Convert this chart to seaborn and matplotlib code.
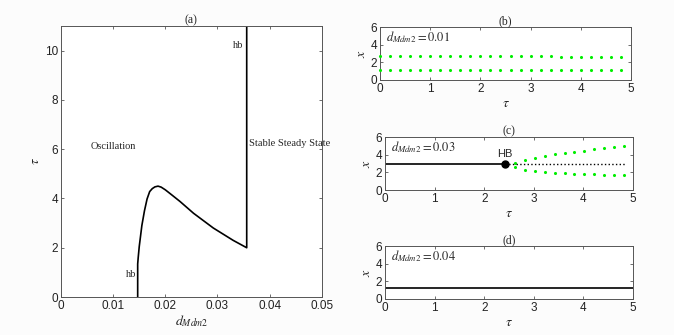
import numpy as np
import pandas as pd
import matplotlib
matplotlib.use("Agg")
import matplotlib.pyplot as plt
import seaborn as sns

# Painel (a): fronteira de bifurcação de Hopf
d_mdm2 = [0.0147, 0.0147, 0.0148, 0.0150, 0.0155, 0.0160, 0.0165, 0.0170, 0.0175,
          0.0180, 0.0186, 0.0192, 0.0200, 0.0212, 0.0228, 0.0254, 0.0292, 0.0330,
          0.0356, 0.0356]
tau_hb = [0.0, 1.34, 1.6, 2.05, 2.9, 3.5, 3.98, 4.28, 4.40,
          4.47, 4.50, 4.46, 4.35, 4.15, 3.88, 3.4, 2.8, 2.3,
          2.0, 11.0]

# Painel (b): d = 0.01, oscilação (máx / mín)
tau_b = [0.0, 0.2, 0.4, 0.6, 0.8, 1.0, 1.2, 1.4, 1.6, 1.8, 2.0, 2.2, 2.4,
         2.6, 2.8, 3.0, 3.2, 3.4, 3.6, 3.8, 4.0, 4.2, 4.4, 4.6, 4.8]
x_max_b = [2.75, 2.75, 2.74, 2.74, 2.73, 2.73, 2.72, 2.72, 2.71, 2.71, 2.70, 2.70, 2.69,
           2.69, 2.68, 2.68, 2.67, 2.67, 2.66, 2.66, 2.65, 2.65, 2.64, 2.64, 2.63]
x_min_b = [1.12, 1.12, 1.12, 1.12, 1.12, 1.12, 1.12, 1.12, 1.12, 1.12, 1.12, 1.12, 1.12,
           1.12, 1.12, 1.12, 1.12, 1.12, 1.12, 1.12, 1.12, 1.12, 1.12, 1.12, 1.12]

# Painel (c): d = 0.03, equilíbrio + ramo periódico após HB
x_eq_c = 2.92
tau_hb_c = 2.42
tau_end_c = 4.85
tau_c = [2.62, 2.82, 3.02, 3.22, 3.42, 3.62, 3.82, 4.02, 4.22, 4.42, 4.62, 4.82]
x_max_c = [3.10, 3.45, 3.67, 3.86, 4.04, 4.20, 4.34, 4.46, 4.60, 4.74, 4.87, 4.98]
x_min_c = [2.62, 2.32, 2.17, 2.08, 1.95, 1.88, 1.86, 1.80, 1.78, 1.73, 1.71, 1.66]

# Painel (d): d = 0.04, estado estacionário estável
tau_d = [0.0, 5.0]
x_eq_d = [1.2, 1.2]

sns.set_theme(style="ticks")
plt.rcParams["font.family"] = ["Liberation Sans", "DejaVu Sans"]
plt.rcParams["mathtext.fontset"] = "stix"
plt.rcParams["xtick.direction"] = "in"
plt.rcParams["ytick.direction"] = "in"
plt.rcParams["xtick.top"] = True
plt.rcParams["ytick.right"] = True

SERIF = "Liberation Serif"
FRAME = "#555555"
GREEN = "#00ee00"


def estilo_eixo(ax, titulo, xlabel, ylabel):
    for s in ax.spines.values():
        s.set_color(FRAME)
        s.set_linewidth(0.7)
    ax.tick_params(labelsize=8.5, colors="#222222", length=2.5, width=0.6,
                   top=True, right=True, pad=2)
    ax.tick_params(axis="both", color=FRAME)
    ax.set_title(titulo, fontsize=8.5, family=SERIF, pad=1.5)
    ax.set_xlabel(xlabel, fontsize=10, labelpad=1)
    ax.set_ylabel(ylabel, fontsize=10, labelpad=2)


fig = plt.figure(figsize=(6.74, 3.35), dpi=100)
fig.patch.set_facecolor("#fcfcfc")

# (a)
ax_a = fig.add_axes([0.0905, 0.1134, 0.387, 0.809])
sns.lineplot(x=d_mdm2, y=tau_hb, sort=False, estimator=None, color="black",
             linewidth=1.2, ax=ax_a)
ax_a.set_xlim(0, 0.05)
ax_a.set_ylim(0, 11)
ax_a.set_xticks([0, 0.01, 0.02, 0.03, 0.04, 0.05])
ax_a.set_xticklabels(["0", "0.01", "0.02", "0.03", "0.04", "0.05"])
ax_a.set_yticks([0, 2, 4, 6, 8, 10])
estilo_eixo(ax_a, "(a)", r"$d_{Mdm2}$", r"$\tau$")
ax_a.text(0.0057, 6.1, "Oscillation", family=SERIF, fontsize=7.5, va="center")
ax_a.text(0.0361, 6.22, "Stable Steady State", family=SERIF, fontsize=7.5, va="center")
ax_a.text(0.0144, 0.9, "hb", family=SERIF, fontsize=7.5, ha="right", va="center")
ax_a.text(0.0350, 10.2, "hb", family=SERIF, fontsize=7.5, ha="right", va="center")

# (b)
ax_b = fig.add_axes([0.5638, 0.7612, 0.3724, 0.158])
df_b = pd.DataFrame({"tau": tau_b * 2, "x": x_max_b + x_min_b})
sns.scatterplot(data=df_b, x="tau", y="x", color=GREEN, s=5, linewidth=0,
                clip_on=False, zorder=3, ax=ax_b)
ax_b.set_xlim(0, 5)
ax_b.set_ylim(0, 6)
ax_b.set_yticks([0, 2, 4, 6])
estilo_eixo(ax_b, "(b)", r"$\tau$", r"$x$")
ax_b.text(0.12, 4.9, r"$d_{Mdm2}=0.01$", fontsize=9, va="center")

# (c)
ax_c = fig.add_axes([0.5712, 0.4328, 0.368, 0.158])
sns.lineplot(x=[0, tau_hb_c], y=[x_eq_c, x_eq_c], color="black", linewidth=1.2,
             ax=ax_c)
sns.lineplot(x=[tau_hb_c, tau_end_c], y=[x_eq_c, x_eq_c], color="black",
             linewidth=1.0, linestyle=":", ax=ax_c)
df_c = pd.DataFrame({"tau": tau_c * 2, "x": x_max_c + x_min_c})
sns.scatterplot(data=df_c, x="tau", y="x", color=GREEN, s=5, linewidth=0,
                ax=ax_c)
ax_c.plot([tau_hb_c], [x_eq_c], "o", color="black", markersize=5)
ax_c.text(tau_hb_c, x_eq_c + 0.55, "HB", fontsize=8, ha="center", va="bottom")
ax_c.set_xlim(0, 5)
ax_c.set_ylim(0, 6)
ax_c.set_yticks([0, 2, 4, 6])
estilo_eixo(ax_c, "(c)", r"$\tau$", r"$x$")
ax_c.text(0.12, 4.9, r"$d_{Mdm2}=0.03$", fontsize=9, va="center")

# (d)
ax_d = fig.add_axes([0.5712, 0.1075, 0.368, 0.158])
sns.lineplot(x=tau_d, y=x_eq_d, color="black", linewidth=1.2, ax=ax_d)
ax_d.set_xlim(0, 5)
ax_d.set_ylim(0, 6)
ax_d.set_yticks([0, 2, 4, 6])
estilo_eixo(ax_d, "(d)", r"$\tau$", r"$x$")
ax_d.text(0.12, 4.9, r"$d_{Mdm2}=0.04$", fontsize=9, va="center")

fig.savefig("out.png", dpi=100, facecolor=fig.get_facecolor())
